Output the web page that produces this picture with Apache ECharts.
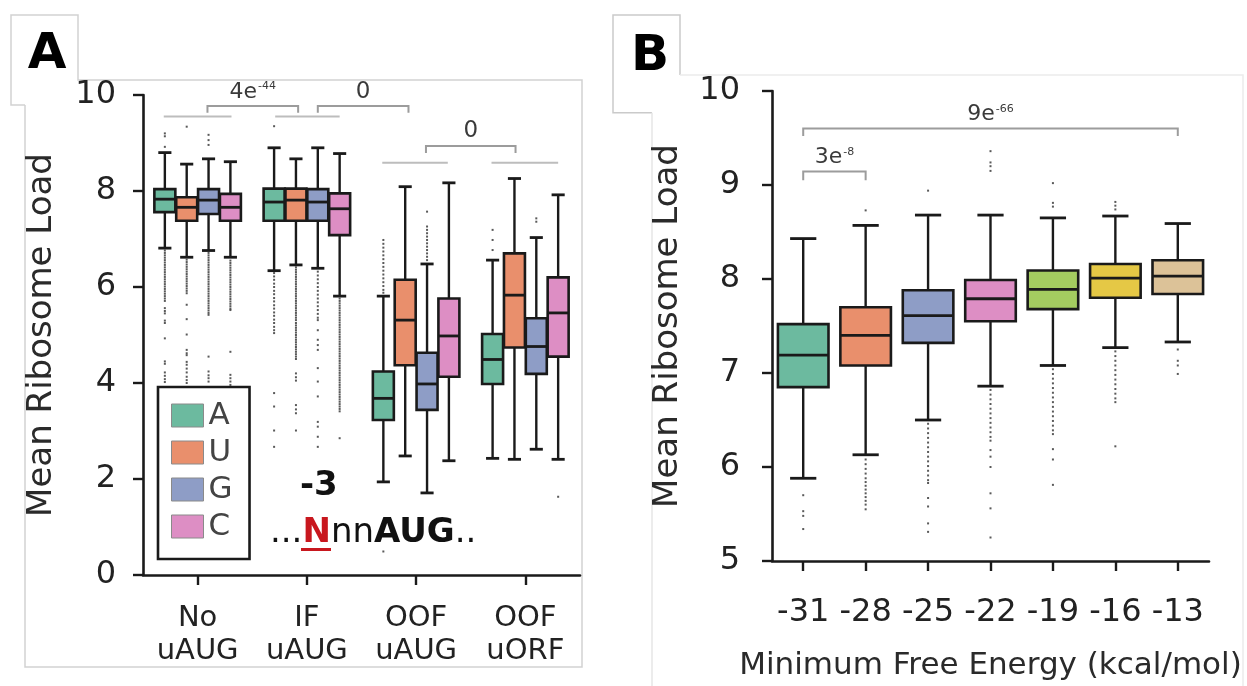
<!DOCTYPE html>
<html>
<head>
<meta charset="utf-8">
<script src="https://cdn.jsdelivr.net/npm/echarts@6/dist/echarts.min.js"></script>
<style>
  html, body { margin: 0; padding: 0; background: #fff; }
  #chart { width: 1247px; height: 686px; }
</style>
</head>
<body>
<div id="chart"></div>
<script>
// ---------- Panel A: MRL by the nucleotide at position -3 ----------
const contextCategories = ['No\nuAUG', 'IF\nuAUG', 'OOF\nuAUG', 'OOF\nuORF'];
const nucleotides = ['A', 'U', 'G', 'C'];

// Box statistics per context: [lower whisker, Q1, median, Q3, upper whisker]
const boxesA = [[6.81, 7.56, 7.83, 8.04, 8.80], [6.34, 7.38, 7.77, 8.05, 8.90], [1.94, 3.23, 3.68, 4.24, 5.81], [2.43, 3.98, 4.49, 5.02, 6.56]];
const boxesU = [[6.62, 7.38, 7.66, 7.87, 8.56], [6.46, 7.38, 7.81, 8.05, 8.67], [2.48, 4.37, 5.31, 6.15, 8.09], [2.41, 4.74, 5.83, 6.70, 8.26]];
const boxesG = [[6.76, 7.52, 7.81, 8.04, 8.67], [6.39, 7.38, 7.77, 8.04, 8.90], [1.71, 3.44, 3.98, 4.63, 6.48], [2.62, 4.19, 4.76, 5.35, 7.03]];
const boxesC = [[6.62, 7.38, 7.66, 7.94, 8.61], [5.81, 7.08, 7.63, 7.95, 8.78], [2.38, 4.13, 4.98, 5.76, 8.17], [2.41, 4.55, 5.46, 6.20, 7.92]];

// Fliers per context
const fliersA = [
  [9.20, 9.14, 8.92, 6.76, 6.71, 6.66, 6.61, 6.56, 6.51, 6.46, 6.41, 6.36, 6.31, 6.26, 6.21, 6.16, 6.11, 6.06, 6.01, 5.96, 5.91, 5.86, 5.81, 5.76, 5.71, 5.56, 5.50, 5.45, 5.30, 5.25, 4.93, 4.45, 4.40, 4.22, 4.15, 4.08, 4.02],
  [9.35, 6.29, 6.22, 6.15, 6.07, 6.00, 5.92, 5.85, 5.77, 5.70, 5.62, 5.55, 5.47, 5.40, 5.32, 5.25, 5.17, 5.10, 5.04, 3.79, 3.51, 3.01, 2.67],
  [6.98, 6.90, 6.82, 6.74, 6.66, 6.58, 6.50, 6.42, 6.34, 6.26, 6.18, 6.10, 6.02, 5.94, 5.88, 0.49],
  [7.19, 6.98, 6.77]
];
const fliersU = [
  [9.34, 6.57, 6.52, 6.47, 6.42, 6.37, 6.32, 6.27, 6.22, 6.17, 6.12, 6.07, 6.02, 5.97, 5.92, 5.87, 5.63, 5.33, 5.01, 4.69, 4.62, 4.58, 4.44, 4.38, 4.30, 4.22, 4.13, 4.06, 4.00],
  [6.41, 6.36, 6.31, 6.26, 6.21, 6.16, 6.11, 6.06, 6.01, 5.96, 5.91, 5.86, 5.81, 5.76, 5.71, 5.66, 5.61, 5.56, 5.51, 5.46, 5.41, 5.36, 5.31, 5.25, 5.20, 5.15, 5.10, 5.05, 5.00, 4.95, 4.90, 4.85, 4.80, 4.75, 4.70, 4.65, 4.60, 4.55, 4.50, 4.20, 4.12, 4.05, 3.54, 3.45, 3.37, 3.01],
  [],
  []
];
const fliersG = [
  [9.17, 9.06, 8.96, 6.71, 6.66, 6.61, 6.56, 6.51, 6.46, 6.41, 6.36, 6.31, 6.26, 6.21, 6.16, 6.11, 6.06, 6.01, 5.96, 5.91, 5.86, 5.81, 5.76, 5.71, 5.66, 5.61, 5.56, 5.51, 5.46, 5.42, 4.55, 4.24, 4.16, 4.10, 4.03],
  [6.32, 6.24, 6.16, 6.08, 6.00, 5.92, 5.84, 5.76, 5.68, 5.60, 5.52, 5.44, 5.36, 5.31, 5.10, 4.90, 4.79, 4.69, 4.31, 4.03, 3.72, 3.19, 3.09, 2.88, 2.67],
  [7.57, 7.26, 7.19, 7.12, 7.05, 6.98, 6.91, 6.84, 6.77, 6.70, 6.63, 6.56],
  [7.43, 7.36]
];
const fliersC = [
  [6.55, 6.50, 6.45, 6.40, 6.35, 6.30, 6.25, 6.20, 6.15, 6.10, 6.05, 6.00, 5.95, 5.90, 5.85, 5.80, 5.75, 5.70, 5.65, 5.60, 5.55, 5.52, 4.65, 4.17, 4.10, 4.03, 3.96],
  [5.76, 5.71, 5.66, 5.61, 5.56, 5.51, 5.46, 5.41, 5.36, 5.31, 5.26, 5.21, 5.16, 5.11, 5.06, 5.01, 4.96, 4.91, 4.86, 4.81, 4.76, 4.71, 4.66, 4.61, 4.56, 4.51, 4.46, 4.41, 4.36, 4.31, 4.26, 4.21, 4.16, 4.11, 4.06, 4.01, 3.96, 3.91, 3.86, 3.81, 3.76, 3.71, 3.66, 3.61, 3.56, 3.51, 3.46, 3.41, 2.85],
  [],
  [1.63]
];
const yTicksA = { min: 0, max: 10, interval: 2 };

// Comparison brackets: [from category, to category, bar level, leg end, p-value mantissa, exponent]
const bracketsA = [
  [0.09, 0.92, 9.77, 9.63, '4e', '-44'],
  [1.10, 1.93, 9.77, 9.63, '0', ''],
  [2.09, 2.91, 8.94, 8.79, '0', '']
];
// Group underlines: [from category, to category, level]
const groupLinesA = [[-0.31, 0.31, 9.55], [0.71, 1.30, 9.55], [1.69, 2.29, 8.59], [2.69, 3.30, 8.59]];

// ---------- Panel B: MRL by minimum free energy ----------
const energyBins = ['-31', '-28', '-25', '-22', '-19', '-16', '-13'];
const boxesEnergy = [
  [5.88, 6.85, 7.19, 7.52, 8.43],
  [6.13, 7.08, 7.40, 7.70, 8.57],
  [6.50, 7.32, 7.61, 7.88, 8.68],
  [6.86, 7.55, 7.79, 7.99, 8.68],
  [7.08, 7.68, 7.89, 8.09, 8.65],
  [7.27, 7.80, 8.01, 8.16, 8.67],
  [7.33, 7.84, 8.03, 8.20, 8.59]
];
const fliersEnergy = [
  [5.70, 5.53, 5.48, 5.34],
  [8.73, 6.08, 6.03, 5.98, 5.93, 5.88, 5.84, 5.80, 5.76, 5.72, 5.68, 5.64, 5.60, 5.55],
  [8.94, 6.46, 6.41, 6.36, 6.31, 6.26, 6.21, 6.16, 6.11, 6.06, 6.01, 5.96, 5.91, 5.86, 5.83, 5.67, 5.58, 5.40, 5.31],
  [9.36, 9.24, 9.20, 9.15, 6.82, 6.77, 6.72, 6.67, 6.62, 6.57, 6.52, 6.47, 6.42, 6.37, 6.32, 6.28, 6.18, 6.11, 6.00, 5.72, 5.56, 5.25],
  [9.02, 8.81, 8.77, 7.04, 6.99, 6.94, 6.89, 6.84, 6.79, 6.74, 6.69, 6.64, 6.59, 6.54, 6.49, 6.44, 6.39, 6.35, 6.19, 6.08, 5.81],
  [8.82, 8.78, 8.74, 7.23, 7.18, 7.13, 7.08, 7.03, 6.98, 6.93, 6.88, 6.83, 6.78, 6.73, 6.69, 6.22],
  [7.25, 7.13, 7.08, 6.99]
];
const yTicksB = { min: 5, max: 10, interval: 1 };
const bracketsB = [
  [0, 1, 9.144, 9.05, '3e', '-8'],
  [0, 6, 9.60, 9.52, '9e', '-66']
];

// ---------- styling ----------
const FONT = 'DejaVu Sans';
const INK = '#1a1a1a';
const nucleotideColors = ['#6cba9f', '#e98f6c', '#8e9dc6', '#dd8ec4'];
const energyColors = ['#6cba9f', '#e98f6c', '#8e9dc6', '#dd8ec4', '#a4cc60', '#e5c845', '#dcc298'];

function seg(x1, y1, x2, y2, w) {
  return { type: 'line', shape: { x1, y1, x2, y2 }, style: { stroke: INK, lineWidth: w } };
}

// Box-and-whisker glyph drawn through the axis scales
function boxRenderer(count, offset, boxFrac, capFrac, colorOf) {
  return function (params, api) {
    const cat = api.value(0);
    const band = params.coordSys.width / count;
    const cx = api.coord([cat, 0])[0] + offset * band;
    const y = (d) => api.coord([cat, api.value(d)])[1];
    const yLo = y(1), yQ1 = y(2), yMed = y(3), yQ3 = y(4), yHi = y(5);
    const bw = band * boxFrac, cw = band * capFrac;
    return {
      type: 'group',
      children: [
        seg(cx, yQ1, cx, yLo, 2.4),
        seg(cx, yQ3, cx, yHi, 2.4),
        seg(cx - cw / 2, yLo, cx + cw / 2, yLo, 2.8),
        seg(cx - cw / 2, yHi, cx + cw / 2, yHi, 2.8),
        { type: 'rect', shape: { x: cx - bw / 2, y: yQ3, width: bw, height: yQ1 - yQ3 },
          style: { fill: colorOf(params), stroke: INK, lineWidth: 2.6 } },
        seg(cx - bw / 2, yMed, cx + bw / 2, yMed, 2.8)
      ]
    };
  };
}

function flierRenderer(count, offset) {
  return function (params, api) {
    const cat = api.value(0);
    const band = params.coordSys.width / count;
    const p = api.coord([cat, api.value(1)]);
    const cx = p[0] + offset * band;
    return { type: 'rect', shape: { x: cx - 1, y: p[1] - 1, width: 2, height: 2 },
             style: { fill: '#3c3c3c', opacity: 0.85 } };
  };
}

// Significance brackets with a p-value label above
function bracketRenderer(count, list) {
  return function (params, api) {
    const b = list[params.dataIndex];
    const band = params.coordSys.width / count;
    const x0 = api.coord([0, b[2]])[0];
    const x1 = x0 + b[0] * band, x2 = x0 + b[1] * band;
    const yTop = api.coord([0, b[2]])[1], yLeg = api.coord([0, b[3]])[1];
    const label = b[5] ? '{m|' + b[4] + '}{e|' + b[5] + '}' : '{m|' + b[4] + '}';
    return {
      type: 'group',
      children: [
        { type: 'polyline', shape: { points: [[x1, yLeg], [x1, yTop], [x2, yTop], [x2, yLeg]] },
          style: { stroke: '#9c9c9c', lineWidth: 2, fill: null } },
        { type: 'text', x: (x1 + x2) / 2, y: yTop - 3,
          style: { text: label, align: 'center', verticalAlign: 'bottom',
                   rich: { m: { fontSize: b[5] ? 22 : 23, fontFamily: FONT, fill: '#3a3a3a' },
                           e: { fontSize: 11, fontFamily: FONT, fill: '#3a3a3a', verticalAlign: 'top', padding: [0, 0, 10, 1] } } } }
      ]
    };
  };
}

function groupLineRenderer(count, list) {
  return function (params, api) {
    const g = list[params.dataIndex];
    const band = params.coordSys.width / count;
    const p = api.coord([0, g[2]]);
    return { type: 'line', shape: { x1: p[0] + g[0] * band, y1: p[1], x2: p[0] + g[1] * band, y2: p[1] },
             style: { stroke: '#bdbdbd', lineWidth: 2 } };
  };
}

// ---------- series ----------
const boxTablesA = [boxesA, boxesU, boxesG, boxesC];
const flierTablesA = [fliersA, fliersU, fliersG, fliersC];
const series = [];

nucleotides.forEach((nt, k) => {
  const offset = (k - 1.5) * 0.2;
  series.push({
    name: nt, type: 'custom', xAxisIndex: 0, yAxisIndex: 0,
    itemStyle: { color: nucleotideColors[k] },
    encode: { x: 0, y: [1, 2, 3, 4, 5] },
    data: boxTablesA[k].map((b, i) => [i].concat(b)),
    renderItem: boxRenderer(contextCategories.length, offset, 0.192, 0.12, () => nucleotideColors[k]),
    z: 3
  });
  const pts = [];
  flierTablesA[k].forEach((list, i) => list.forEach(v => pts.push([i, v])));
  series.push({
    name: nt + ' fliers', type: 'custom', xAxisIndex: 0, yAxisIndex: 0,
    encode: { x: 0, y: 1 }, data: pts,
    renderItem: flierRenderer(contextCategories.length, offset), z: 2
  });
});

series.push({
  name: 'groups A', type: 'custom', xAxisIndex: 0, yAxisIndex: 0,
  encode: { x: 0, y: 1 }, data: groupLinesA.map(g => [0, g[2]]),
  renderItem: groupLineRenderer(contextCategories.length, groupLinesA), z: 2
});
series.push({
  name: 'brackets A', type: 'custom', xAxisIndex: 0, yAxisIndex: 0,
  encode: { x: 0, y: 1 }, data: bracketsA.map(b => [0, b[2]]),
  renderItem: bracketRenderer(contextCategories.length, bracketsA), z: 2
});

series.push({
  name: 'MFE boxes', type: 'custom', xAxisIndex: 1, yAxisIndex: 1,
  encode: { x: 0, y: [1, 2, 3, 4, 5] },
  data: boxesEnergy.map((b, i) => [i].concat(b)),
  renderItem: boxRenderer(energyBins.length, 0, 0.81, 0.42, (p) => energyColors[p.dataIndex]),
  z: 3
});
const energyPts = [];
fliersEnergy.forEach((list, i) => list.forEach(v => energyPts.push([i, v])));
series.push({
  name: 'MFE fliers', type: 'custom', xAxisIndex: 1, yAxisIndex: 1,
  encode: { x: 0, y: 1 }, data: energyPts,
  renderItem: flierRenderer(energyBins.length, 0), z: 2
});
series.push({
  name: 'brackets B', type: 'custom', xAxisIndex: 1, yAxisIndex: 1,
  encode: { x: 0, y: 1 }, data: bracketsB.map(b => [0, b[2]]),
  renderItem: bracketRenderer(energyBins.length, bracketsB), z: 2
});

// ---------- axes ----------
const axisLine = { show: true, lineStyle: { color: INK, width: 2.6 } };
const axisTick = { show: true, inside: false, length: 10, lineStyle: { color: INK, width: 2.4 } };

const option = {
  animation: false,
  backgroundColor: '#ffffff',
  textStyle: { fontFamily: FONT },
  grid: [
    { left: 143, top: 95, width: 437, height: 480 },
    { left: 772, top: 91, width: 437, height: 478 }
  ],
  xAxis: [
    { type: 'category', gridIndex: 0, data: contextCategories, axisLine, boundaryGap: true,
      axisTick: Object.assign({ alignWithLabel: true }, axisTick), splitLine: { show: false },
      axisLabel: { fontSize: 29, lineHeight: 33, color: '#222', margin: 27, fontFamily: FONT, interval: 0 } },
    { type: 'category', gridIndex: 1, data: energyBins, axisLine, boundaryGap: true,
      axisTick: Object.assign({ alignWithLabel: true }, axisTick), splitLine: { show: false },
      axisLabel: { fontSize: 32, color: '#222', margin: 36, fontFamily: FONT, interval: 0 },
      name: 'Minimum Free Energy (kcal/mol)', nameLocation: 'middle', nameGap: 89,
      nameTextStyle: { fontSize: 31, color: '#2a2a2a', fontFamily: FONT } }
  ],
  yAxis: [
    { type: 'value', gridIndex: 0, min: yTicksA.min, max: yTicksA.max, interval: yTicksA.interval,
      axisLine, axisTick, splitLine: { show: false },
      axisLabel: { fontSize: 32, color: '#222', margin: 27, fontFamily: FONT },
      name: 'Mean Ribosome Load', nameLocation: 'middle', nameGap: 84,
      nameTextStyle: { fontSize: 34, color: '#2a2a2a', fontFamily: FONT } },
    { type: 'value', gridIndex: 1, min: yTicksB.min, max: yTicksB.max, interval: yTicksB.interval,
      axisLine, axisTick, splitLine: { show: false },
      axisLabel: { fontSize: 32, color: '#222', margin: 32, fontFamily: FONT },
      name: 'Mean Ribosome Load', nameLocation: 'middle', nameGap: 87,
      nameTextStyle: { fontSize: 34, color: '#2a2a2a', fontFamily: FONT } }
  ],
  legend: {
    data: nucleotides, orient: 'vertical', left: 158, top: 387,
    padding: [13, 17, 17, 13], itemWidth: 32, itemHeight: 23, itemGap: 6,
    icon: 'rect', selectedMode: false,
    backgroundColor: '#ffffff', borderColor: INK, borderWidth: 2.6, borderRadius: 0,
    itemStyle: { borderColor: '#8a8a8a', borderWidth: 1 },
    textStyle: { fontSize: 31, color: '#444', fontFamily: FONT }
  },
  graphic: [
    // panel A frame merged with its label box
    { type: 'polyline', shape: { points: [[25, 105], [11, 105], [11, 15], [78, 15], [78, 80], [582, 80], [582, 667], [25, 667], [25, 105]] },
      style: { stroke: '#d2d2d2', lineWidth: 1.5, fill: null }, silent: true },
    { type: 'text', x: 47, y: 55, style: { text: 'A', font: 'bold 50px "DejaVu Sans"', fill: '#000', align: 'center', verticalAlign: 'middle' } },
    // panel B frame merged with its label box
    { type: 'polyline', shape: { points: [[652, 112.7], [613, 112.7], [613, 15], [680, 15], [680, 75]] },
      style: { stroke: '#cacaca', lineWidth: 1.5, fill: null }, silent: true },
    { type: 'polyline', shape: { points: [[680, 75], [1243, 75], [1243, 700]] },
      style: { stroke: '#ececec', lineWidth: 1.5, fill: null }, silent: true },
    { type: 'line', shape: { x1: 652, y1: 112.7, x2: 652, y2: 700 },
      style: { stroke: '#e6e6e6', lineWidth: 1.5 }, silent: true },
    { type: 'text', x: 650, y: 57, style: { text: 'B', font: 'bold 50px "DejaVu Sans"', fill: '#000', align: 'center', verticalAlign: 'middle' } },
    // Kozak -3 annotation
    { type: 'text', x: 300, y: 486, style: { text: '-3', font: 'bold 34px "DejaVu Sans"', fill: '#111', align: 'left', verticalAlign: 'middle' } },
    { type: 'text', x: 270, y: 533,
      style: { text: '{d|...}{n|N}{t|nn}{b|AUG}{d|..}', align: 'left', verticalAlign: 'middle',
               rich: { d: { fontSize: 34, fontFamily: FONT, fill: '#111' },
                       n: { fontSize: 34, fontFamily: FONT, fontWeight: 'bold', fill: '#c8171e' },
                       t: { fontSize: 34, fontFamily: FONT, fill: '#111' },
                       b: { fontSize: 34, fontFamily: FONT, fontWeight: 'bold', fill: '#111' } } } },
    { type: 'line', shape: { x1: 301, y1: 549.5, x2: 331, y2: 549.5 }, style: { stroke: '#c8171e', lineWidth: 3 } }
  ],
  series
};

const chart = echarts.init(document.getElementById('chart'), null, { renderer: 'canvas', width: 1247, height: 686 });
chart.setOption(option);
</script>
</body>
</html>
